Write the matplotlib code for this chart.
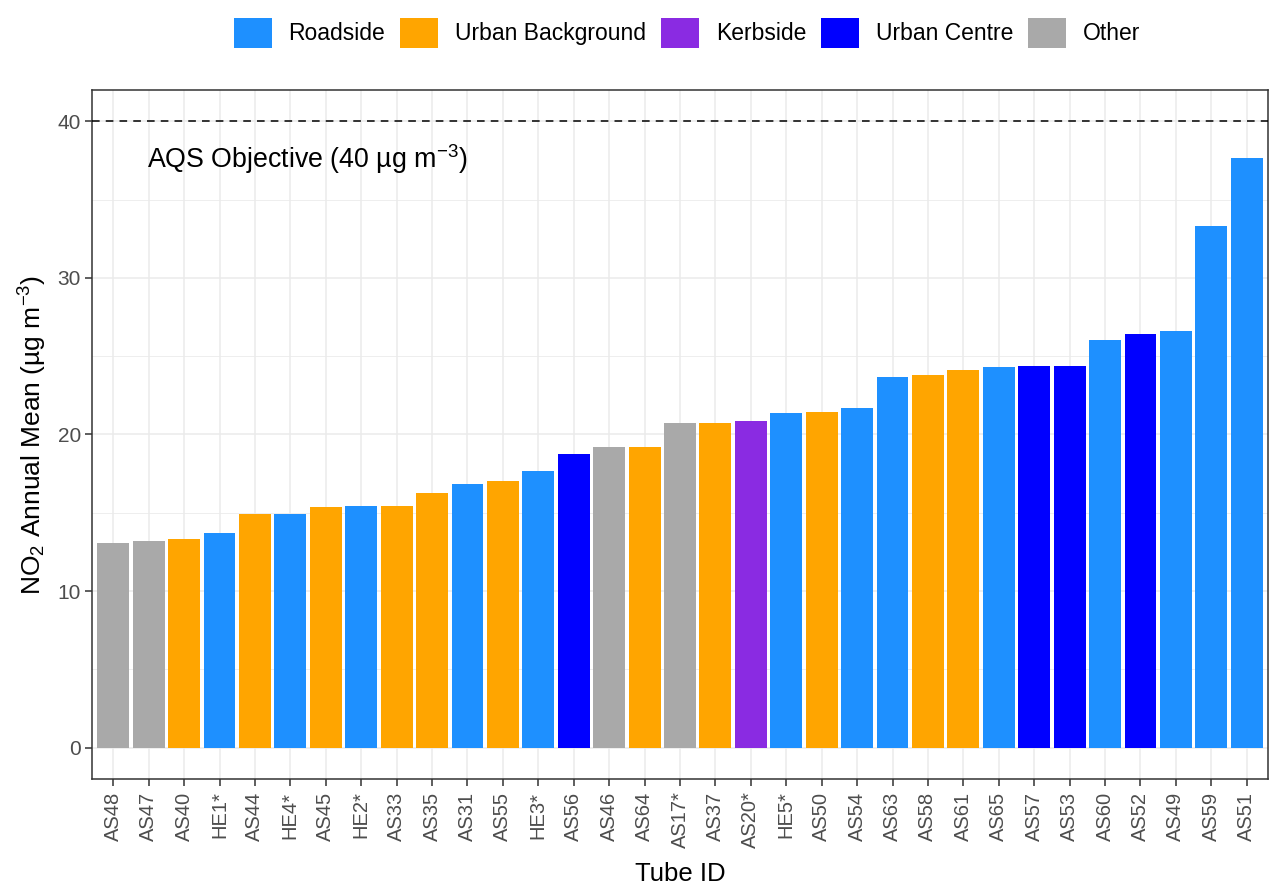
import matplotlib
matplotlib.use("Agg")
import matplotlib.pyplot as plt
from matplotlib.patches import Patch

plt.rcParams['font.family'] = ['Liberation Sans', 'DejaVu Sans']
plt.rcParams['mathtext.fontset'] = 'custom'
plt.rcParams['mathtext.rm'] = 'Liberation Sans'
plt.rcParams['mathtext.it'] = 'Liberation Sans:italic'
plt.rcParams['mathtext.bf'] = 'Liberation Sans:bold'

tubes = ["AS48", "AS47", "AS40", "HE1*", "AS44", "HE4*", "AS45", "HE2*", "AS33", "AS35",
         "AS31", "AS55", "HE3*", "AS56", "AS46", "AS64", "AS17*", "AS37", "AS20*", "HE5*",
         "AS50", "AS54", "AS63", "AS58", "AS61", "AS65", "AS57", "AS53", "AS60", "AS52",
         "AS49", "AS59", "AS51"]
values = [13.1, 13.2, 13.35, 13.7, 14.95, 14.95, 15.35, 15.45, 15.45, 16.25,
          16.85, 17.0, 17.7, 18.75, 19.2, 19.2, 20.75, 20.75, 20.85, 21.35,
          21.45, 21.7, 23.7, 23.8, 24.15, 24.3, 24.4, 24.4, 26.05, 26.4,
          26.6, 33.3, 37.65]
site_type = ["Other", "Other", "Urban Background", "Roadside", "Urban Background", "Roadside",
             "Urban Background", "Roadside", "Urban Background", "Urban Background",
             "Roadside", "Urban Background", "Roadside", "Urban Centre", "Other",
             "Urban Background", "Other", "Urban Background", "Kerbside", "Roadside",
             "Urban Background", "Roadside", "Roadside", "Urban Background", "Urban Background",
             "Roadside", "Urban Centre", "Urban Centre", "Roadside", "Urban Centre",
             "Roadside", "Roadside", "Roadside"]
categories = ["Roadside", "Urban Background", "Kerbside", "Urban Centre", "Other"]
cat_colors = ["#1E90FF", "#FFA500", "#8A2BE2", "#0000FF", "#A9A9A9"]
objective = 40

cmap = dict(zip(categories, cat_colors))

fig = plt.figure(figsize=(12.76, 8.88), dpi=100)
ax = fig.add_axes([92/1276, 1 - 779/888, (1268-92)/1276, (779-90)/888])

x = list(range(len(tubes)))
ax.bar(x, values, width=0.9, color=[cmap[s] for s in site_type], zorder=3)

ax.axhline(objective, color='black', linestyle=(0, (5, 4)), linewidth=1.1, zorder=4)
ax.text(0.95, 37.6, "AQS Objective (40 µg m$^{-3}$)", fontsize=19.3, ha='left', va='center',
        color='black', zorder=5)

ax.set_xlim(-0.6, len(tubes) - 0.4)
ax.set_ylim(-2, 42)
ax.set_yticks([0, 10, 20, 30, 40])
ax.set_yticks([5, 15, 25, 35], minor=True)
ax.set_xticks(x)
ax.set_xticklabels(tubes, rotation=90, fontsize=14.5, color='#4D4D4D')
ax.tick_params(axis='y', labelsize=15, labelcolor='#4D4D4D', pad=3)
ax.tick_params(axis='x', pad=4)
ax.tick_params(axis='both', which='major', length=5, width=1.1, color='#333333')
ax.tick_params(axis='both', which='minor', length=0)

ax.grid(True, which='major', color='#EBEBEB', linewidth=1.1, zorder=0)
ax.grid(True, which='minor', axis='y', color='#EBEBEB', linewidth=0.6, zorder=0)
ax.set_axisbelow(True)
for sp in ax.spines.values():
    sp.set_color('#333333')
    sp.set_linewidth(1.1)

ax.set_xlabel("Tube ID", fontsize=18.5, labelpad=10)
ax.set_ylabel("NO$_2$ Annual Mean (µg m$^{-3}$)", fontsize=19, labelpad=6)

handles = [Patch(facecolor=c, edgecolor='none', label=l) for l, c in zip(categories, cat_colors)]
fig.legend(handles=handles, loc='center', bbox_to_anchor=(687/1276, 1 - 33/888), ncol=5,
           frameon=False, fontsize=16.5, handlelength=1.65, handleheight=1.65,
           handletextpad=0.74, columnspacing=0.65, borderaxespad=0)

fig.savefig("out.png", dpi=100)
